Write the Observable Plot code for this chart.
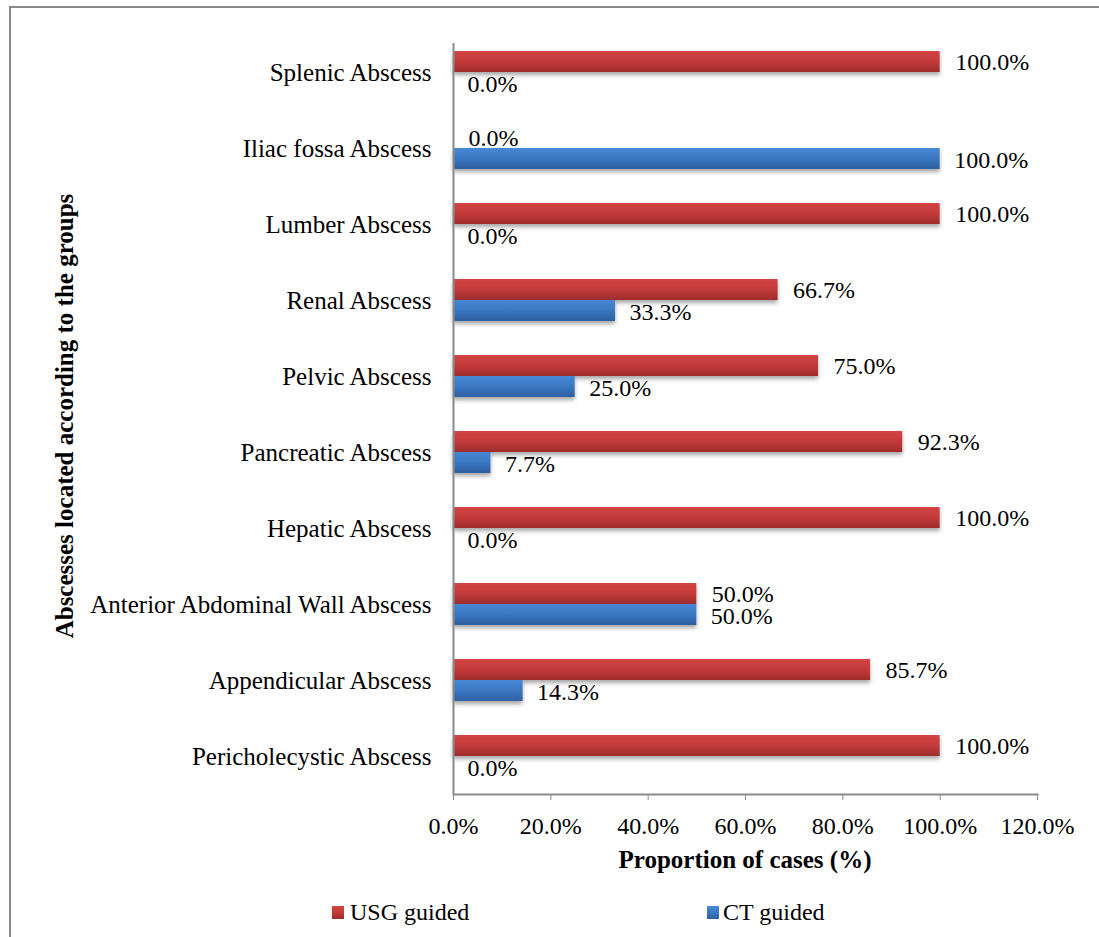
<!DOCTYPE html>
<html>
<head>
<meta charset="utf-8">
<script src="https://cdn.jsdelivr.net/npm/d3@7"></script>
<script src="https://cdn.jsdelivr.net/npm/@observablehq/plot@0.6"></script>
<style>
  html, body { margin: 0; padding: 0; background: #fff; }
  #page { position: relative; width: 1099px; height: 937px; overflow: hidden; font-family: "Liberation Serif", "Times New Roman", serif; color: #000; }
  #border { position: absolute; left: 9px; top: 6px; width: 1300px; height: 1100px; border-top: 2px solid #8a8a8a; border-left: 2px solid #8a8a8a; }
  #chart { position: absolute; left: 0; top: 0; }
  #xtitle { position: absolute; left: 453px; width: 584px; top: 846px; line-height: 28px; font-size: 25px; font-weight: bold; text-align: center; }
  #ytitle { position: absolute; left: -185px; top: 402px; width: 500px; height: 28px; line-height: 28px; font-size: 25px; font-weight: bold; text-align: center; transform: rotate(-90deg); transform-origin: 50% 50%; white-space: nowrap; }
  .swatch { position: absolute; width: 12px; height: 13px; }
  .legtext { position: absolute; font-size: 24px; line-height: 24px; white-space: nowrap; }
</style>
</head>
<body>
<div id="page">
  <div id="border"></div>
  <div id="chart"></div>
  <div id="xtitle">Proportion of cases (%)</div>
  <div id="ytitle">Abscesses located according to the groups</div>
  <div id="legend"></div>
</div>
<script>
// Abscess sites, listed top to bottom
const categories = [
  "Splenic Abscess",
  "Iliac fossa Abscess",
  "Lumber Abscess",
  "Renal Abscess",
  "Pelvic Abscess",
  "Pancreatic Abscess",
  "Hepatic Abscess",
  "Anterior Abdominal Wall Abscess",
  "Appendicular Abscess",
  "Pericholecystic Abscess"
];
// Proportion of cases (%) per guidance method
const usgGuided = [100.0, 0.0, 100.0, 66.7, 75.0, 92.3, 100.0, 50.0, 85.7, 100.0];
const ctGuided  = [0.0, 100.0, 0.0, 33.3, 25.0, 7.7, 0.0, 50.0, 14.3, 0.0];
const seriesNames = ["USG guided", "CT guided"];
const xTicks = [0, 20, 40, 60, 80, 100, 120];

const usgRows = categories.map((c, i) => ({category: c, value: usgGuided[i]}));
const ctRows  = categories.map((c, i) => ({category: c, value: ctGuided[i]}));
const fmt = d => d.value.toFixed(1) + "%";

const chart = Plot.plot({
  width: 1099,
  height: 840,
  marginLeft: 453,
  marginRight: 62,
  marginTop: 34,
  marginBottom: 46,
  style: {fontFamily: "'Liberation Serif', 'Times New Roman', serif", fontSize: "24px", color: "#000", background: "transparent"},
  x: {domain: [0, 120]},
  y: {domain: categories, padding: 0},
  marks: [
    Plot.barX(usgRows, {x: "value", y: "category", fill: "url(#usgFill)", insetTop: 17, insetBottom: 38}),
    Plot.barX(ctRows, {x: "value", y: "category", fill: "url(#ctFill)", insetTop: 38, insetBottom: 17}),
    Plot.text(usgRows, {x: "value", y: "category", text: fmt, dx: 15, dy: -10, textAnchor: "start", fontSize: 24, fill: "#000"}),
    Plot.text(ctRows, {x: "value", y: "category", text: fmt, dx: 14, dy: 12, textAnchor: "start", fontSize: 24, fill: "#000"}),
    Plot.ruleX([0], {stroke: "#8a8a8a", strokeWidth: 2, insetTop: 9}),
    Plot.frame({anchor: "bottom", stroke: "#8a8a8a", strokeWidth: 2}),
    Plot.axisX({ticks: xTicks, tickFormat: d => d.toFixed(1) + "%", tickSize: 6, tickPadding: 16, stroke: "#8a8a8a", fill: "#000", fontSize: 24, label: null}),
    Plot.axisY({tickSize: 0, tickPadding: 22, fill: "#000", fontSize: 25, label: null})
  ]
});

// gradient fills and a soft shadow for the bars
const svg = d3.select(chart);
const defs = svg.insert("defs", ":first-child");
function addGradient(id, stops) {
  const g = defs.append("linearGradient").attr("id", id).attr("x1", 0).attr("y1", 0).attr("x2", 0).attr("y2", 1);
  stops.forEach(([o, c]) => g.append("stop").attr("offset", o).attr("stop-color", c));
}
addGradient("usgFill", [[0, "#d44545"], [0.45, "#c53b3b"], [1, "#9e2c2c"]]);
addGradient("ctFill", [[0, "#4788d4"], [0.45, "#3b79c4"], [1, "#2e5f9f"]]);
const shadow = defs.append("filter").attr("id", "barShadow").attr("x", "-5%").attr("y", "-30%").attr("width", "110%").attr("height", "180%");
shadow.append("feDropShadow").attr("dx", 0).attr("dy", 3).attr("stdDeviation", 2).attr("flood-color", "#000").attr("flood-opacity", 0.35);
svg.selectAll("g[aria-label='bar']").attr("filter", "url(#barShadow)");

document.getElementById("chart").appendChild(chart);

// legend below the chart
const legend = document.getElementById("legend");
const legendItems = [
  {name: seriesNames[0], grad: "linear-gradient(#d44545, #c53b3b 45%, #9e2c2c)", sx: 332, tx: 350},
  {name: seriesNames[1], grad: "linear-gradient(#4788d4, #3b79c4 45%, #2e5f9f)", sx: 707, tx: 723}
];
legendItems.forEach(item => {
  const sw = document.createElement("div");
  sw.className = "swatch";
  sw.style.left = item.sx + "px";
  sw.style.top = "906px";
  sw.style.background = item.grad;
  legend.appendChild(sw);
  const t = document.createElement("div");
  t.className = "legtext";
  t.style.left = item.tx + "px";
  t.style.top = "900px";
  t.textContent = item.name;
  legend.appendChild(t);
});
</script>
</body>
</html>
